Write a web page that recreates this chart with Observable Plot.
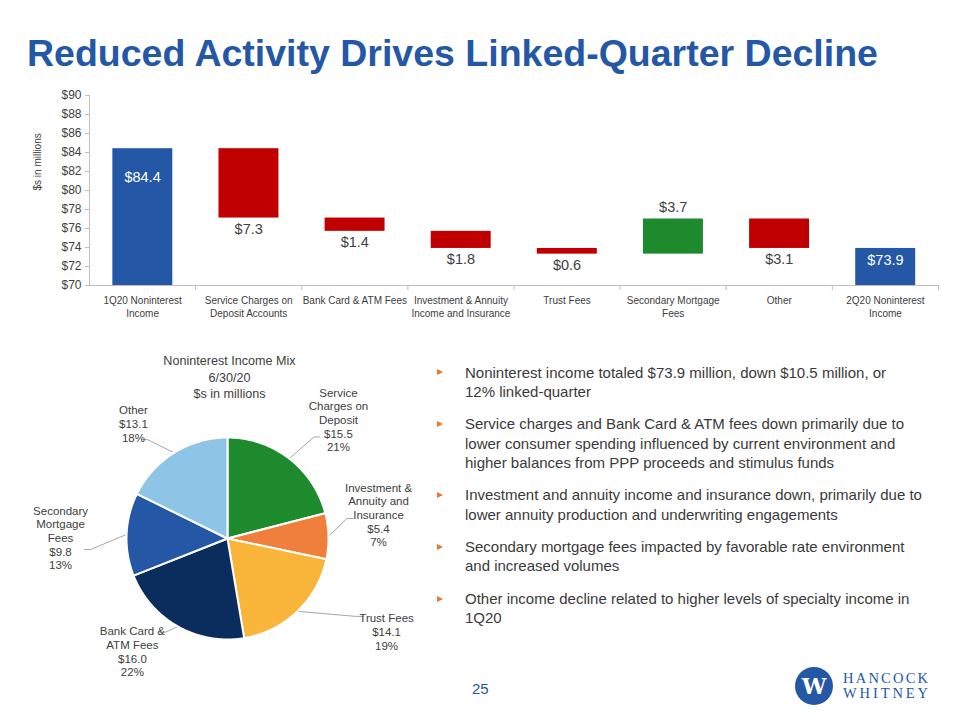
<!DOCTYPE html>
<html><head><meta charset="utf-8">
<script src="https://cdn.jsdelivr.net/npm/d3@7"></script>
<script src="https://cdn.jsdelivr.net/npm/@observablehq/plot@0.6"></script>
<style>
html,body{margin:0;padding:0;background:#fff;}
#page{position:relative;width:960px;height:720px;overflow:hidden;font-family:"Liberation Sans",Arial,sans-serif;background:#fff;}
#title{position:absolute;left:27px;top:35.3px;font-size:37.5px;line-height:1;font-weight:bold;color:#2458a6;white-space:nowrap;}
#wf{position:absolute;left:0;top:80px;}
#pie{position:absolute;left:0;top:340px;}
#bullets{position:absolute;left:465px;top:362.5px;margin:0;padding:0;list-style:none;font-size:15px;line-height:19.3px;color:#3a3a3a;}
#bullets li{position:relative;margin:0 0 13.2px 0;white-space:nowrap;}
#bullets li::before{content:"";position:absolute;left:-28px;top:6.7px;border-left:6px solid #e8782f;border-top:3.5px solid transparent;border-bottom:3.5px solid transparent;}
#pagenum{position:absolute;left:472px;top:681px;font-size:15px;line-height:1;color:#2458a6;}
#logo{position:absolute;left:790px;top:660px;}
</style>
</head><body>
<div id="page">
  <div id="title">Reduced Activity Drives Linked-Quarter Decline</div>
  <div id="wf"></div>
  <div id="pie"></div>
  <ul id="bullets"></ul>
  <div id="pagenum">25</div>
  <svg id="logo" width="150" height="55" viewBox="0 0 150 55">
    <circle cx="24" cy="26" r="19" fill="#2458a6"></circle>
    <text x="24" y="34" text-anchor="middle" font-family="'DejaVu Serif',serif" font-weight="bold" font-size="22" fill="#fff">W</text>
    <text x="53" y="23" font-family="'Liberation Serif',serif" font-size="14.5" fill="#2458a6" textLength="85" lengthAdjust="spacing">HANCOCK</text>
    <text x="53" y="38" font-family="'Liberation Serif',serif" font-size="14.5" fill="#2458a6" textLength="85" lengthAdjust="spacing">WHITNEY</text>
  </svg>
</div>
<script>
// ---------- Waterfall data ----------
const wfCategories = [
  "1Q20 Noninterest\nIncome",
  "Service Charges on\nDeposit Accounts",
  "Bank Card & ATM Fees",
  "Investment & Annuity\nIncome and Insurance",
  "Trust Fees",
  "Secondary Mortgage\nFees",
  "Other",
  "2Q20 Noninterest\nIncome"
];
const wfValues = [84.4, -7.3, -1.4, -1.8, -0.6, 3.7, -3.1, 73.9];
const wfKinds = ["total", "delta", "delta", "delta", "delta", "delta", "delta", "total"];
const wfTicks = [70, 72, 74, 76, 78, 80, 82, 84, 86, 88, 90];

// ---------- Pie data ----------
const pieNames = ["Service\nCharges on\nDeposit", "Investment &\nAnnuity and\nInsurance", "Trust Fees", "Bank Card &\nATM Fees", "Secondary\nMortgage\nFees", "Other"];
const pieValues = [15.5, 5.4, 14.1, 16.0, 9.8, 13.1];
const pieColors = ["#1e8a2e", "#f07f3c", "#f9b53a", "#0b2d5e", "#2458a6", "#8ec4e6"];
const pieTitle = "Noninterest Income Mix\n6/30/20\n$s in millions";

// ---------- Bullets ----------
const bullets = [
  ["Noninterest income totaled $73.9 million, down $10.5 million, or", "12% linked-quarter"],
  ["Service charges and Bank Card & ATM fees down primarily due to", "lower consumer spending influenced by current environment and", "higher balances from PPP proceeds and stimulus funds"],
  ["Investment and annuity income and insurance down, primarily due to", "lower annuity production and underwriting engagements"],
  ["Secondary mortgage fees impacted by favorable rate environment", "and increased volumes"],
  ["Other income decline related to higher levels of specialty income in", "1Q20"]
];

const COLORS = {total: "#2458a6", neg: "#c00000", pos: "#1e8a2e"};
const FONT = "'Liberation Sans', Arial, sans-serif";
const BASE = 70;

// build waterfall rows
let running = 0;
const rows = wfValues.map((v, i) => {
  let y1, y2, color, kind = wfKinds[i];
  if (kind === "total") { y1 = BASE; y2 = v; running = v; color = COLORS.total; }
  else { y1 = running; y2 = running + v; running += v; color = v < 0 ? COLORS.neg : COLORS.pos; }
  const top = Math.max(y1, y2), bottom = Math.min(y1, y2);
  return {i, cat: wfCategories[i], v, kind, y1, y2, top, bottom, color,
          label: "$" + Math.abs(v).toFixed(1)};
});

const wf = Plot.plot({
  width: 960, height: 240,
  marginLeft: 89, marginRight: 22, marginTop: 15, marginBottom: 35,
  x: {type: "linear", domain: [0, wfCategories.length], axis: null},
  y: {domain: [70, 90], axis: null},
  style: {fontFamily: FONT, color: "#404040", background: "transparent", overflow: "visible"},
  marks: [
    Plot.rect(rows, {x1: d => d.i + 0.22, x2: d => d.i + 0.785, y1: "y1", y2: "y2", fill: "color"}),
    Plot.ruleX([0], {stroke: "#bfbfbf"}),
    Plot.ruleY([BASE], {stroke: "#bfbfbf"}),
    Plot.axisY({ticks: wfTicks, tickFormat: () => "", tickSize: 4, stroke: "#bfbfbf", label: null}),
    Plot.text(wfTicks, {y: d => d, frameAnchor: "left", textAnchor: "end", dx: -8, text: d => "$" + d, fontSize: 12, fill: "#404040"}),
    Plot.axisX({ticks: d3.range(1, wfCategories.length + 1), tickSize: 5, tickFormat: () => "", stroke: "#bfbfbf", label: null}),
    Plot.text(rows, {x: d => d.i + 0.5, frameAnchor: "bottom", lineAnchor: "top", dy: 9, text: "cat", fontSize: 10, lineHeight: 1.3, fill: "#404040"}),
    Plot.text(rows.filter(d => d.kind === "total"), {x: d => d.i + 0.5, y: d => Math.max(d.top - 3, d.top - (d.top - BASE) / 3), text: "label", fill: "white", fontSize: 14.5}),
    Plot.text(rows.filter(d => d.kind === "delta" && d.v < 0), {x: d => d.i + 0.5, y: "bottom", dy: 11, text: "label", fill: "#404040", fontSize: 14.5}),
    Plot.text(rows.filter(d => d.kind === "delta" && d.v > 0), {x: d => d.i + 0.5, y: "top", dy: -12, text: "label", fill: "#404040", fontSize: 14.5}),
    Plot.text(["$s in millions"], {frameAnchor: "left", rotate: -90, dx: -52, fontSize: 10, fill: "#404040"})
  ]
});
document.getElementById("wf").appendChild(wf);

// ---------- Pie ----------
const PW = 450, PH = 360, CX = 227, CY = 198, R = 101;
const total = d3.sum(pieValues);
const arcs = d3.pie().sort(null)(pieValues);
const slicePts = [];
arcs.forEach((a, k) => {
  const n = Math.max(2, Math.ceil((a.endAngle - a.startAngle) / 0.01));
  slicePts.push({k, x: 0, y: 0, color: pieColors[k]});
  for (let j = 0; j <= n; j++) {
    const t = a.startAngle + (a.endAngle - a.startAngle) * j / n;
    slicePts.push({k, x: Math.sin(t), y: Math.cos(t), color: pieColors[k]});
  }
  slicePts.push({k, x: 0, y: 0, color: pieColors[k]});
});

// label placement (layout: polar angle in degrees clockwise from top, radius factor)
const labelPlace = [[43.0, 1.611], [81.0, 1.514], [120.3, 1.824], [220.1, 1.462], [270.3, 1.653], [320.7, 1.471]];
const elbowPlace = [[40.4, 1.32], [80.5, 1.2], [121, 1.5], [213.4, 1.11], [265.4, 1.36], [321, 1.26]];
const polar = (deg, f) => ({x: f * Math.sin(deg * Math.PI / 180), y: f * Math.cos(deg * Math.PI / 180)});

const labels = arcs.map((a, k) => {
  const p = polar(labelPlace[k][0], labelPlace[k][1]);
  return {x: p.x, y: p.y, text: pieNames[k] + "\n$" + pieValues[k].toFixed(1) + "\n" + Math.round(pieValues[k] / total * 100) + "%"};
});
const leaderPts = [];
arcs.forEach((a, k) => {
  const mid = (a.startAngle + a.endAngle) / 2;
  const e = polar(elbowPlace[k][0], elbowPlace[k][1]);
  const lp = polar(labelPlace[k][0], labelPlace[k][1]);
  const dir = lp.x > e.x ? 1 : -1;
  leaderPts.push({k, x: Math.sin(mid), y: Math.cos(mid)});
  leaderPts.push({k, x: e.x, y: e.y});
  leaderPts.push({k, x: e.x + dir * 0.06, y: e.y});
});

const pie = Plot.plot({
  width: PW, height: PH,
  marginLeft: 0, marginRight: 0, marginTop: 0, marginBottom: 0,
  x: {domain: [-CX / R, (PW - CX) / R], axis: null},
  y: {domain: [-(PH - CY) / R, CY / R], axis: null},
  style: {fontFamily: FONT, color: "#404040", background: "transparent", overflow: "visible"},
  marks: [
    Plot.line(leaderPts, {x: "x", y: "y", z: "k", stroke: "#a6a6a6", strokeWidth: 1}),
    Plot.line(slicePts, {x: "x", y: "y", z: "k", fill: "color", stroke: "white", strokeWidth: 2, strokeLinejoin: "round"}),
    Plot.text(labels, {x: "x", y: "y", text: "text", lineAnchor: "middle", textAnchor: "middle", fontSize: 11.5, lineHeight: 1.19, fill: "#404040"}),
    Plot.text([pieTitle], {frameAnchor: "top", dx: 4, dy: 13, lineAnchor: "top", fontSize: 12.6, lineHeight: 1.3, fill: "#404040"})
  ]
});
document.getElementById("pie").appendChild(pie);

// ---------- Bullets ----------
const ul = document.getElementById("bullets");
bullets.forEach(lines => {
  const li = document.createElement("li");
  lines.forEach((l, j) => {
    if (j) li.appendChild(document.createElement("br"));
    li.appendChild(document.createTextNode(l));
  });
  ul.appendChild(li);
});
</script>
</body></html>
